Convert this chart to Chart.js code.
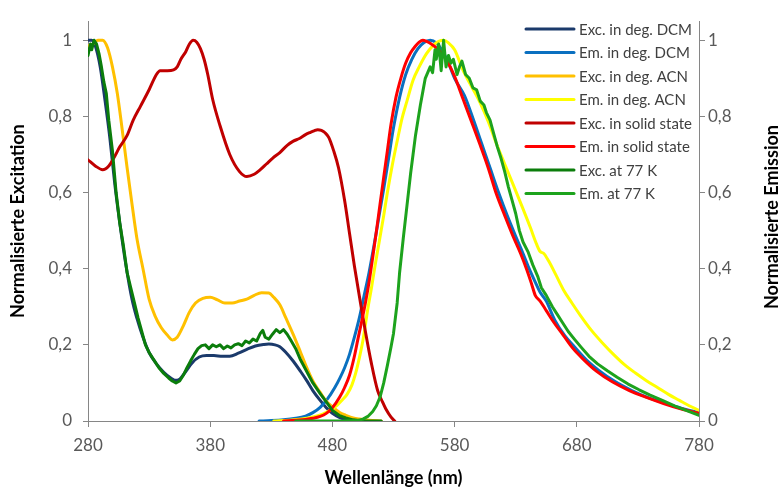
<!DOCTYPE html>
<html><head><meta charset="utf-8">
<script src="https://cdn.jsdelivr.net/npm/chart.js@4"></script>
<style>html,body{margin:0;padding:0;background:#fff}canvas{display:block}</style>
</head><body>
<canvas id="c" width="783" height="489"></canvas>
<script>
const xTicks = [280,380,480,580,680,780];
const yTicks = [0,0.2,0.4,0.6,0.8,1];
const seriesNames = ['Exc. in deg. DCM','Em. in deg. DCM','Exc. in deg. ACN','Em. in deg. ACN','Exc. in solid state','Em. in solid state','Exc. at 77 K','Em. at 77 K'];
const seriesColors = ['#1B3A6B','#0A70C0','#FFC000','#FFFF00','#C00000','#FF0000','#0B7D0B','#1DA31D'];

const excDcmX = [280,283,286,290,294,298,302,306,311,316,320,325,330,336,342,348,351,355,360,365,371,377,383,390,396,403,410,417,424,428,433,437,442,448,454,459,464,470,475,480,486,491,497,502];
const excDcmY = [1.0,1.0,0.985,0.93,0.84,0.74,0.62,0.52,0.41,0.32,0.27,0.22,0.18,0.15,0.128,0.112,0.107,0.11,0.13,0.152,0.168,0.172,0.172,0.17,0.17,0.178,0.188,0.197,0.201,0.202,0.2,0.195,0.18,0.157,0.13,0.106,0.08,0.054,0.035,0.02,0.009,0.004,0.001,0];

const emDcmX = [420,430,440,450,458,464,470,476,482,486,490,494,498,502,506,510,514,518,522,526,530,535,540,545,550,555,560,565,570,575,580,588,595,602,609,616,623,630,636,641,646,650,655,662,670,678,688,698,711,725,738,752,766,780];
const emDcmY = [0,0.001,0.003,0.007,0.013,0.022,0.036,0.058,0.088,0.112,0.14,0.175,0.22,0.27,0.33,0.39,0.46,0.535,0.61,0.69,0.77,0.85,0.91,0.95,0.978,0.994,1.0,0.993,0.972,0.94,0.90,0.855,0.795,0.73,0.665,0.60,0.54,0.485,0.44,0.40,0.365,0.338,0.315,0.265,0.225,0.195,0.16,0.133,0.104,0.08,0.062,0.047,0.033,0.022];

const excAcnX = [280,284,288,292,296,300,304,308,312,316,320,325,330,335,340,345,349,353,358,363,368,374,380,386,392,398,404,410,416,422,428,432,437,442,448,454,459,464,470,475,480,486,491,497,502,510,520];
const excAcnY = [0.985,0.99,1.0,1.0,0.98,0.93,0.86,0.765,0.665,0.57,0.48,0.40,0.32,0.275,0.245,0.225,0.213,0.22,0.25,0.286,0.31,0.322,0.325,0.318,0.31,0.31,0.315,0.32,0.33,0.337,0.336,0.325,0.305,0.27,0.227,0.18,0.14,0.105,0.075,0.052,0.037,0.022,0.015,0.008,0.005,0.002,0];

const emAcnX = [432,445,455,465,472,478,484,488,492,496,499,502,505,509,512,515,518,522,525,529,533,537,541,546,551,557,563,567,571,575,580,587,594,601,608,614,621,628,635,642,647,650,653,657,663,669,676,683,692,701,710,719,728,737,746,755,764,772,780];
const emAcnY = [0,0.002,0.005,0.011,0.018,0.028,0.042,0.055,0.07,0.095,0.125,0.165,0.212,0.295,0.35,0.41,0.465,0.54,0.6,0.672,0.735,0.795,0.84,0.895,0.93,0.965,0.988,0.997,1.0,0.993,0.975,0.92,0.878,0.835,0.783,0.73,0.675,0.62,0.565,0.508,0.465,0.445,0.44,0.42,0.383,0.345,0.31,0.277,0.238,0.205,0.175,0.148,0.126,0.106,0.088,0.07,0.054,0.04,0.028];

const excSolX = [280,286,292,297,301,306,312,317,323,330,336,339,345,350,353,356,360,363,366,369,372,375,378,382,388,396,404,410,416,421,426,431,437,443,448,453,458,462,465,468,471,474,477,481,485,490,494,498,503,507,512,517,521,524,528,531];
const excSolY = [0.686,0.67,0.66,0.67,0.69,0.72,0.75,0.79,0.827,0.87,0.91,0.92,0.92,0.922,0.93,0.95,0.97,0.99,1.0,0.995,0.978,0.95,0.91,0.845,0.776,0.70,0.655,0.642,0.648,0.66,0.675,0.69,0.705,0.724,0.735,0.742,0.752,0.758,0.762,0.765,0.763,0.757,0.745,0.71,0.665,0.579,0.493,0.407,0.31,0.235,0.15,0.08,0.05,0.03,0.01,0];

const emSolX = [440,450,458,464,470,475,480,486,490,494,498,501,504,507,510,513,516,519,522,525,528,532,536,540,544,548,551,554,557,561,566,570,574,580,587,594,601,608,614,621,628,634,639,643,646,650,655,661,669,677,686,696,709,723,737,751,765,780];
const emSolY = [0,0.002,0.004,0.007,0.012,0.02,0.035,0.063,0.088,0.12,0.17,0.217,0.262,0.31,0.365,0.43,0.498,0.57,0.64,0.71,0.78,0.85,0.9,0.94,0.967,0.985,0.995,1.0,0.997,0.99,0.978,0.963,0.945,0.905,0.845,0.785,0.724,0.66,0.598,0.54,0.484,0.44,0.398,0.36,0.33,0.315,0.29,0.26,0.225,0.19,0.16,0.131,0.103,0.08,0.062,0.046,0.032,0.02];

const excK77X = [280,282,283,285,287,289,291,293,295,297,300,303,306,309,312,315,318,321,324,327,330,334,338,342,346,349,352,355,358,361,364,367,370,373,376,379,382,385,388,391,394,397,400,403,406,409,412,415,418,421,423,425,428,431,434,437,440,443,446,450,454,459,464,470,475,480,486,491,497,505,520];
const excK77Y = [0.96,0.99,0.975,1.0,0.99,0.965,0.93,0.89,0.86,0.79,0.71,0.60,0.52,0.46,0.39,0.35,0.31,0.27,0.235,0.2,0.18,0.16,0.14,0.125,0.113,0.105,0.1,0.105,0.12,0.14,0.158,0.175,0.19,0.198,0.2,0.19,0.2,0.195,0.2,0.19,0.197,0.192,0.2,0.203,0.198,0.21,0.205,0.215,0.21,0.23,0.238,0.22,0.215,0.228,0.24,0.232,0.24,0.228,0.212,0.19,0.16,0.13,0.1,0.072,0.05,0.028,0.014,0.008,0.003,0,0];

const emK77X = [450,470,490,500,505,509,513,516,519,522,525,528,530,533,535,538,541,544,546,548,550,552,554,556,558,560,562,564,565,567,569,571,573,575,577,579,582,584,586,589,592,595,598,601,604,606,609,612,615,618,621,624,627,630,633,636,640,644,648,651,655,660,664,668,673,678,684,690,697,705,713,722,731,740,750,760,770,780];
const emK77Y = [0,0,0,0.001,0.005,0.012,0.025,0.04,0.063,0.1,0.146,0.195,0.23,0.31,0.39,0.48,0.565,0.65,0.7,0.75,0.79,0.83,0.865,0.9,0.915,0.93,0.915,0.975,0.95,0.99,0.92,1.0,0.93,0.96,0.94,0.95,0.91,0.93,0.945,0.91,0.9,0.875,0.87,0.84,0.83,0.81,0.79,0.755,0.72,0.69,0.655,0.615,0.58,0.545,0.5,0.47,0.445,0.41,0.38,0.35,0.33,0.3,0.28,0.26,0.235,0.215,0.192,0.17,0.15,0.132,0.115,0.097,0.082,0.068,0.054,0.04,0.027,0.015];

const seriesX = [excDcmX, emDcmX, excAcnX, emAcnX, excSolX, emSolX, excK77X, emK77X];
const seriesY = [excDcmY, emDcmY, excAcnY, emAcnY, excSolY, emSolY, excK77Y, emK77Y];
const seriesAxis = ['y','y2','y','y2','y','y2','y','y2'];
const seriesNoisy = [false,false,false,false,false,false,true,true];

const FONT = 'Lato';
function pts(xs, ys){ return xs.map((x,i)=>({x:x, y:ys[i]})); }
function fmt(v){ return String(+Number(v).toFixed(1)).replace('.', ','); }

const datasets = seriesNames.map((name,i)=>({
  label: name,
  data: pts(seriesX[i], seriesY[i]),
  yAxisID: seriesAxis[i],
  borderColor: seriesColors[i],
  backgroundColor: seriesColors[i],
  borderWidth: 3,
  pointRadius: 0,
  fill: false,
  tension: seriesNoisy[i] ? 0 : 0.4,
  cubicInterpolationMode: seriesNoisy[i] ? 'default' : 'monotone',
  borderCapStyle: 'round',
  borderJoinStyle: 'round',
  order: seriesNames.length - i
}));

const insideLegend = {
  id: 'insideLegend',
  afterDraw(chart){
    const ctx = chart.ctx;
    ctx.save();
    ctx.font = '15px ' + FONT;
    ctx.textBaseline = 'middle';
    ctx.textAlign = 'left';
    chart.data.datasets.forEach((ds, i)=>{
      const y = 29 + i * 23.5;
      ctx.strokeStyle = ds.borderColor;
      ctx.lineWidth = 3;
      ctx.lineCap = 'round';
      ctx.beginPath(); ctx.moveTo(526, y); ctx.lineTo(574, y); ctx.stroke();
      ctx.fillStyle = '#404040';
      ctx.fillText(ds.label, 579, y + 1);
    });
    ctx.restore();
  }
};

const rightTitle = {
  id: 'rightTitle',
  afterDraw(chart){
    const ctx = chart.ctx;
    ctx.save();
    ctx.translate(772, 217);
    ctx.rotate(-Math.PI/2);
    ctx.font = 'bold 18px ' + FONT;
    ctx.fillStyle = '#000';
    ctx.textAlign = 'center';
    ctx.textBaseline = 'middle';
    ctx.fillText('Normalisierte Emission', 0, 0);
    ctx.restore();
  }
};

const tickFont = {family: FONT, size: 17};
const axisGrid = {drawOnChartArea: false, drawTicks: true, tickLength: 6, color: '#868686'};
const axisBorder = {color: '#868686', width: 1};

new Chart(document.getElementById('c'), {
  type: 'line',
  data: {datasets: datasets},
  plugins: [insideLegend, rightTitle],
  options: {
    responsive: false,
    animation: false,
    devicePixelRatio: 1,
    layout: {padding: {top: 14, left: 0, right: 0, bottom: 0}},
    plugins: {legend: {display: false}, tooltip: {enabled: false}},
    scales: {
      x: {
        type: 'linear', min: 280, max: 780,
        afterBuildTicks: s => { s.ticks = xTicks.map(v=>({value:v})); },
        afterFit: s => { s.height = 68; },
        ticks: {font: tickFont, color: '#595959', padding: 8, maxRotation: 0, autoSkip: false},
        grid: axisGrid, border: axisBorder,
        title: {display: true, text: 'Wellenlänge (nm)', color: '#000', font: {family: FONT, size: 18, weight: 'bold'}, padding: {top: 0, bottom: 0}}
      },
      y: {
        position: 'left', min: 0, max: 1.05,
        afterBuildTicks: s => { s.ticks = yTicks.map(v=>({value:v})); },
        afterFit: s => { s.width = 88; },
        ticks: {font: tickFont, color: '#595959', padding: 11, callback: v => fmt(v)},
        grid: Object.assign({}, axisGrid, {tickLength: 5}), border: axisBorder,
        title: {display: true, text: 'Normalisierte Excitation', color: '#000', font: {family: FONT, size: 18, weight: 'bold'}, padding: {top: 7, bottom: 0}}
      },
      y2: {
        position: 'right', min: 0, max: 1.05,
        afterBuildTicks: s => { s.ticks = yTicks.map(v=>({value:v})); },
        afterFit: s => { s.width = 84; },
        ticks: {font: tickFont, color: '#595959', padding: 3, callback: v => fmt(v)},
        grid: axisGrid, border: axisBorder
      }
    }
  }
});
</script>
</body></html>
